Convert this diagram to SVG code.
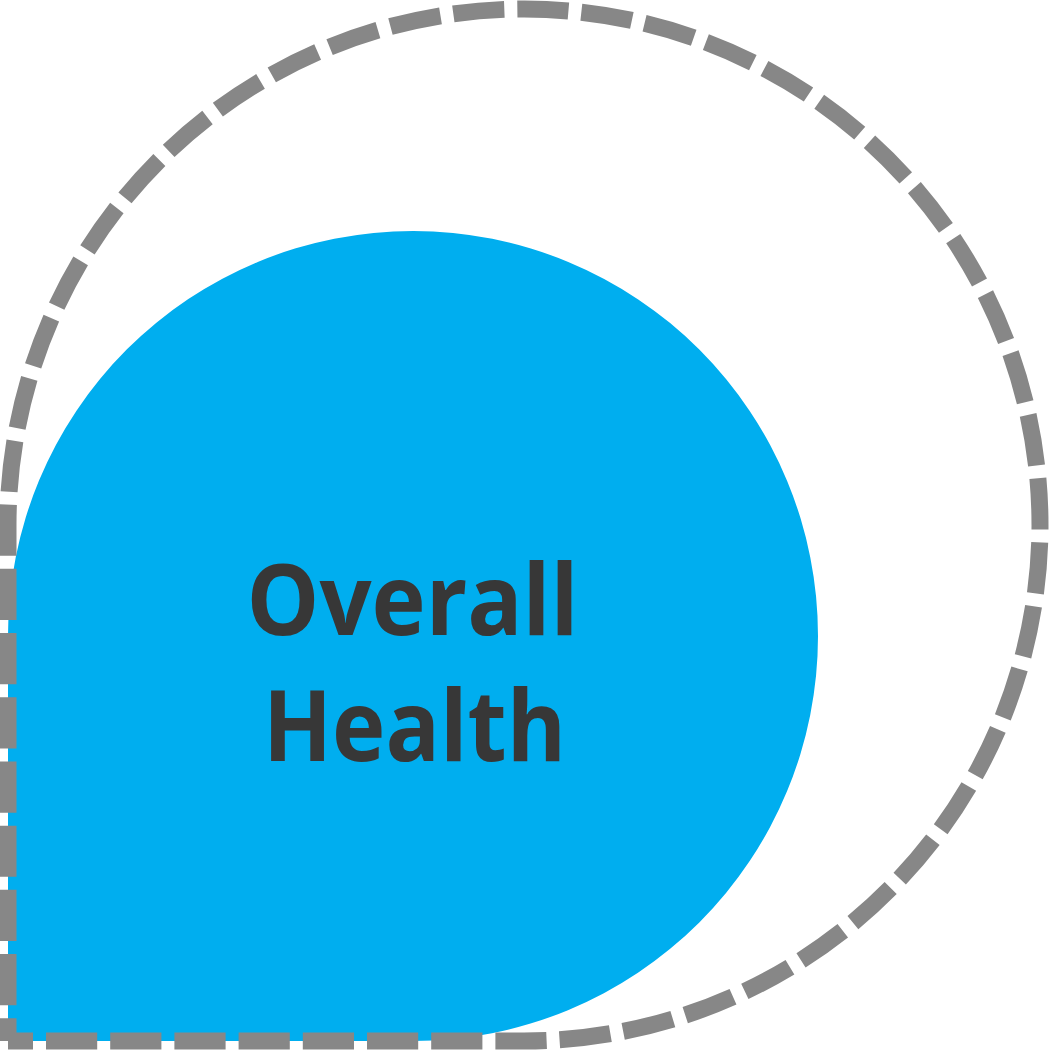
<svg xmlns="http://www.w3.org/2000/svg" width="1049" height="1050" viewBox="0 0 1049 1050">
  <style>
    .blob { fill: #00AEEF; stroke: none; }
    .outline { fill: none; stroke: #878787; stroke-width: 17; stroke-dasharray: 51.2 13; stroke-dashoffset: 26.2; stroke-linejoin: miter; }
    .label { font-family: "Open Sans", "Noto Sans", "Liberation Sans", sans-serif; font-weight: 700; font-size: 99px; fill: #373737; text-anchor: middle; }
  </style>
  <rect x="0" y="0" width="1049" height="1050" fill="#FFFFFF"/>
  <g id="overall-health">
    <path class="blob" d="M 8 1041 L 8 635.5 A 405 405 0 1 1 413 1041 Z"/>
    <text class="label" x="412.5" y="635" textLength="332" lengthAdjust="spacingAndGlyphs">Overall</text>
    <text class="label" x="414.5" y="761" textLength="303" lengthAdjust="spacingAndGlyphs">Health</text>
  </g>
  <g id="boundary">
    <path class="outline" d="M 8 1041 L 524 1041 A 516 516 0 1 0 8 524.5 L 8 1041"/>
  </g>
</svg>
